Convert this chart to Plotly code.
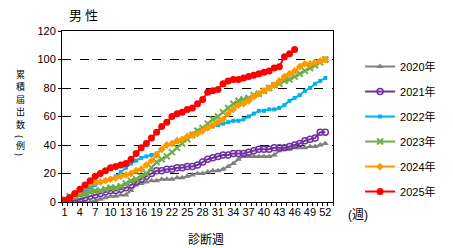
import plotly.graph_objects as go

weeks = list(range(1, 53))
tick_weeks = list(range(1, 53, 3))

y2020 = [0, 0, 0, 0, 0, 0, 1, 2, 3, 4, 4, 5, 5, 8, 12, 13, 14, 15, 15, 16, 16, 16, 17, 17, 18, 19,
         20, 20, 21, 22, 22, 23, 25, 27, 30, 32, 32, 32, 32, 32, 32, 33, 36, 37, 37, 38, 38, 38, 39, 39, 40, 41]
y2021 = [0, 1, 1, 2, 3, 4, 5, 6, 7, 8, 8, 9, 10, 12, 14, 16, 18, 20, 22, 22, 23, 23, 24, 24, 25, 25,
         26, 28, 30, 31, 32, 33, 33, 34, 34, 34, 35, 36, 37, 37, 37, 38, 38, 38, 39, 40, 41, 43, 44, 45, 49, 49]
y2022 = [2, 3, 4, 6, 8, 10, 12, 14, 15, 16, 18, 21, 24, 27, 29, 31, 32, 33, 34, 37, 40, 41, 42, 43, 45, 48,
         50, 51, 53, 53, 54, 55, 56, 57, 57, 58, 60, 62, 64, 64, 65, 65, 66, 68, 71, 73, 75, 78, 80, 83, 85, 87]
y2023 = [2, 4, 4, 5, 6, 7, 8, 8, 9, 10, 10, 11, 13, 15, 16, 18, 20, 24, 28, 30, 32, 35, 38, 41, 44, 47,
         50, 52, 55, 58, 60, 63, 66, 69, 71, 72, 73, 75, 76, 78, 80, 82, 83, 85, 86, 88, 90, 92, 94, 96, 98, 100]
y2024 = [1, 3, 5, 8, 11, 13, 14, 14, 15, 16, 17, 18, 19, 20, 22, 23, 26, 29, 33, 37, 40, 41, 43, 44, 46, 47,
         48, 50, 52, 54, 56, 58, 62, 65, 68, 69, 71, 74, 76, 78, 80, 82, 85, 88, 90, 92, 95, 97, 97, 98, 99, 100]
y2025 = [1, 3, 6, 9, 12, 15, 18, 20, 22, 24, 25, 26, 27, 30, 34, 38, 41, 45, 49, 53, 56, 60, 62, 63, 65, 66,
         69, 72, 77, 78, 79, 83, 85, 86, 86, 87, 88, 89, 90, 91, 92, 94, 95, 102, 104, 107]

series = [
    ("2020年", y2020, "#808080", "triangle-up", 6),
    ("2021年", y2021, "#7030A0", "circle-open", 6),
    ("2022年", y2022, "#00B0F0", "square", 4),
    ("2023年", y2023, "#70AD47", "x-thin-open", 6),
    ("2024年", y2024, "#FF9900", "diamond", 6),
    ("2025年", y2025, "#FF0000", "circle", 7),
]

FONT = "Liberation Sans, Noto Sans CJK JP"
CJK = "Noto Sans CJK JP"
fig = go.Figure()
for name, ys, color, sym, size in series:
    marker = dict(symbol=sym, size=size, color=color)
    if sym == "x-thin-open":
        marker["line"] = dict(color=color, width=2)
    if sym == "circle-open":
        marker["line"] = dict(color=color, width=1.5)
    fig.add_trace(go.Scatter(
        x=weeks[:len(ys)], y=ys, mode="lines+markers", name=name, legendgroup=name,
        line=dict(color=color, width=2), marker=marker,
    ))

fig.update_layout(
    width=453, height=248,
    margin=dict(l=62, r=109, t=31, b=46),
    paper_bgcolor="white", plot_bgcolor="white",
    font=dict(family=FONT, size=11, color="black"),
    showlegend=True,
    legend=dict(x=1.10, xanchor="left", xref="paper", y=0.877, yanchor="top",
                font=dict(size=11, family=FONT), tracegroupgap=6,
                traceorder="grouped", bgcolor="rgba(0,0,0,0)"),
)
fig.update_xaxes(
    range=[0.5, 53.5], tickvals=tick_weeks, ticktext=[str(w) for w in tick_weeks],
    showline=True, linecolor="black", linewidth=1, mirror=True,
    ticks="", showgrid=False, zeroline=False,
    minor=dict(tick0=0.5, dtick=1, ticks="outside", ticklen=3, tickcolor="black", showgrid=False),
    tickfont=dict(size=11, family=FONT), tickangle=0,
)
fig.update_yaxes(
    range=[0, 120], dtick=20, showline=True, linecolor="black", linewidth=1, mirror=True,
    ticks="outside", ticklen=3, tickcolor="black",
    showgrid=True, gridcolor="black", gridwidth=1, griddash="dash", zeroline=False,
    tickfont=dict(size=11, family=FONT),
)
fig.add_annotation(text="男 性", xref="paper", yref="paper", x=0.02, y=1.0, yshift=5,
                   xanchor="left", yanchor="bottom", showarrow=False,
                   font=dict(size=13, family=CJK))

# vertical y-axis title, one character per line (pixel offsets from plot top)
ytitle_chars = ["累", "積", "届", "出", "数", "(", "例", ")"]
ytitle_offsets = [43, 55.5, 68, 80.5, 93, 105, 114, 123]
for ch, off in zip(ytitle_chars, ytitle_offsets):
    fig.add_annotation(text=ch, xref="paper", yref="paper", x=0, xshift=-42,
                       y=1.0, yshift=-off, xanchor="center", yanchor="middle",
                       showarrow=False, textangle=90 if ch in "()" else 0,
                       font=dict(size=9, family=CJK))

fig.add_annotation(text="診断週", xref="paper", yref="paper", x=0.53, y=0, yshift=-26,
                   xanchor="center", yanchor="top", showarrow=False,
                   font=dict(size=12, family=CJK))
fig.add_annotation(text="(週)", xref="paper", yref="paper", x=1.0, xshift=13, y=0, yshift=-4,
                   xanchor="left", yanchor="top", showarrow=False,
                   font=dict(size=12, family=FONT))

fig.write_html("out.html")
